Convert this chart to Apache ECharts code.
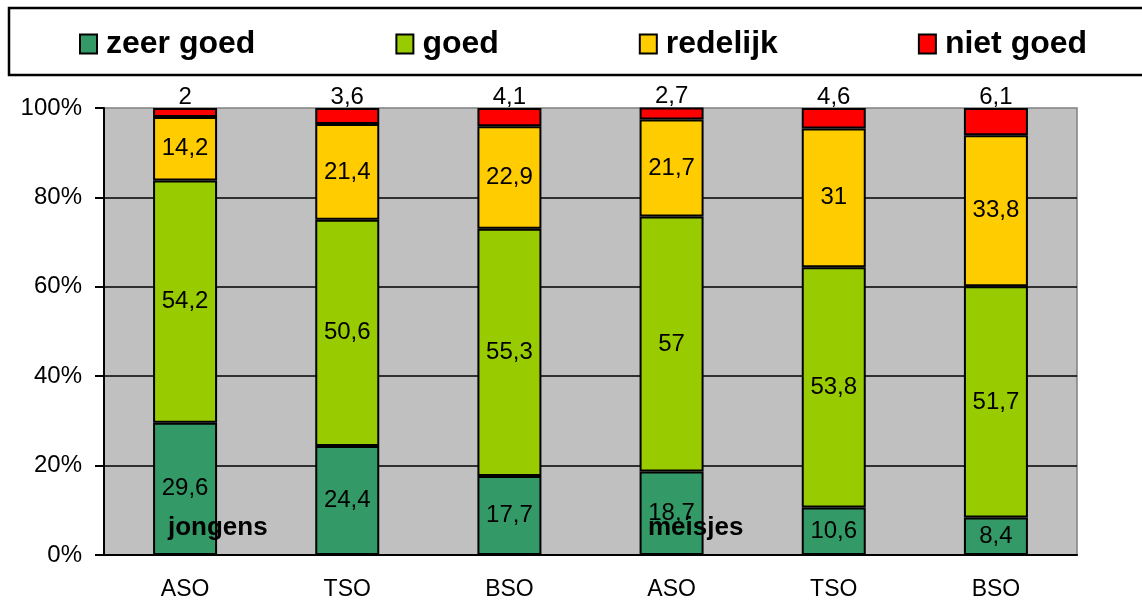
<!DOCTYPE html>
<html>
<head>
<meta charset="utf-8">
<script src="https://cdn.jsdelivr.net/npm/echarts@6/dist/echarts.min.js"></script>
<style>
  html, body { margin: 0; padding: 0; background: #fff; }
  #chart { width: 1142px; height: 606px; }
</style>
</head>
<body>
<div id="chart"></div>
<script>
// categorieën: eerst jongens, dan meisjes
const categories = ['ASO', 'TSO', 'BSO', 'ASO', 'TSO', 'BSO']
const zeerGoed = [29.6, 24.4, 17.7, 18.7, 10.6, 8.4]
const goed = [54.2, 50.6, 55.3, 57, 53.8, 51.7]
const redelijk = [14.2, 21.4, 22.9, 21.7, 31, 33.8]
const nietGoed = [2, 3.6, 4.1, 2.7, 4.6, 6.1]
const yTicks = [0, 20, 40, 60, 80, 100]

const FONT = '"Liberation Sans", Arial, sans-serif'
const SERIES = [
  { name: 'zeer goed', data: zeerGoed, color: '#339966' },
  { name: 'goed', data: goed, color: '#99CC00' },
  { name: 'redelijk', data: redelijk, color: '#FFCC00' },
  { name: 'niet goed', data: nietGoed, color: '#FF0000' },
]
const comma = v => String(v).replace('.', ',')

const chart = echarts.init(document.getElementById('chart'), null, { renderer: 'canvas' })
chart.setOption({
  animation: false,
  textStyle: { fontFamily: FONT },
  grid: {
    left: 104, right: 65, top: 108, bottom: 51,
    show: true, backgroundColor: '#C0C0C0', borderColor: '#808080', borderWidth: 1.5,
  },
  legend: {
    left: 74, top: 23,
    icon: 'rect', itemWidth: 17, itemHeight: 19, itemGap: 140,
    textStyle: { fontFamily: FONT, fontSize: 32, fontWeight: 'bold', color: '#000', padding: [0, 0, 0, 4] },
    data: SERIES.map(s => s.name),
  },
  graphic: [
    // kader rond de legende
    { type: 'rect', z: 100, shape: { x: 9, y: 8, width: 1150, height: 67 },
      style: { fill: 'none', stroke: '#000', lineWidth: 2.5 } },
    { type: 'text', z: 100, x: 168, y: 528,
      style: { text: 'jongens', font: 'bold 26px ' + FONT, fill: '#000', verticalAlign: 'middle' } },
    { type: 'text', z: 100, x: 648, y: 528,
      style: { text: 'meisjes', font: 'bold 26px ' + FONT, fill: '#000', verticalAlign: 'middle' } },
  ],
  xAxis: {
    type: 'category', data: categories,
    axisLine: { lineStyle: { color: '#000', width: 2 } },
    axisTick: { length: 9, lineStyle: { color: '#000', width: 2 } },
    axisLabel: { color: '#000', fontSize: 23, margin: 23, fontFamily: FONT },
  },
  yAxis: {
    type: 'value', min: yTicks[0], max: yTicks[yTicks.length - 1], interval: 20,
    axisLine: { show: true, lineStyle: { color: '#000', width: 2 } },
    axisTick: { show: true, length: 9, lineStyle: { color: '#000', width: 2 } },
    axisLabel: { color: '#000', fontSize: 24, margin: 22, formatter: '{value}%', fontFamily: FONT },
    splitLine: { show: true, showMinLine: false, showMaxLine: false, lineStyle: { color: '#000', width: 1.5 } },
  },
  series: SERIES.map((s, i) => ({
    name: s.name, type: 'bar', stack: 'totaal', barWidth: 64,
    data: s.data,
    itemStyle: { color: s.color, borderColor: '#000', borderWidth: 2 },
    label: {
      show: true,
      position: i === 3 ? 'top' : 'inside',
      distance: -1,
      color: '#000', fontSize: 24, fontFamily: FONT,
      formatter: p => comma(p.value),
    },
  })),
})
</script>
</body>
</html>
